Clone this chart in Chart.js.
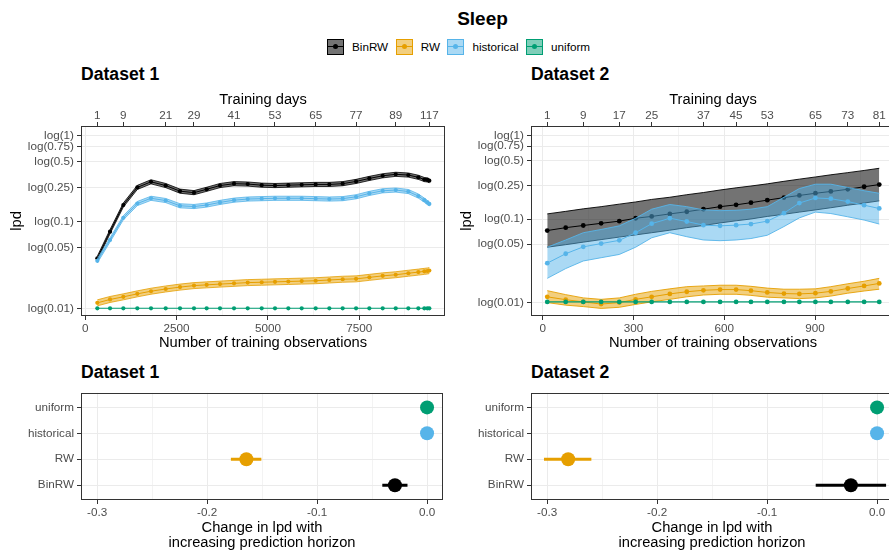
<!DOCTYPE html>
<html>
<head>
<meta charset="utf-8">
<title>Sleep</title>
<script src="https://cdn.jsdelivr.net/npm/chart.js@4.4.1/dist/chart.umd.min.js"></script>
<style>
  html, body { margin: 0; padding: 0; background: #fff; overflow: hidden; }
  #figure { position: relative; width: 889px; height: 553px; overflow: hidden;
            font-family: "Liberation Sans", Arial, Helvetica, sans-serif; color: #000; }
  #figure canvas { position: absolute; }
  .title { position: absolute; white-space: nowrap; font-weight: bold; line-height: 1; }
  #mainTitle { font-size: 19px; left: 482.5px; top: 8.9px; transform: translateX(-50%); }
  .panelTitle { font-size: 17.6px; }
  #legend { position: absolute; left: 327px; top: 38.5px; display: flex; align-items: center;
            font-size: 11.7px; line-height: 16px; white-space: nowrap; }
  .item { display: flex; align-items: center; margin-right: 7.5px; }
  .key { position: relative; width: 17px; height: 16px; box-sizing: border-box; margin-right: 8px; border: 1px solid; }
  .key .ln { position: absolute; left: 0; right: 0; top: 6.5px; height: 1px; }
  .key .pt { position: absolute; left: 5px; top: 4.5px; width: 5px; height: 5px; border-radius: 50%; }
</style>
</head>
<body>
<div id="figure">
  <div id="mainTitle" class="title">Sleep</div>
  <div id="legend"></div>
  <div class="title panelTitle" style="left:81px;top:65.6px">Dataset 1</div>
  <div class="title panelTitle" style="left:531px;top:65.6px">Dataset 2</div>
  <div class="title panelTitle" style="left:81px;top:364.1px">Dataset 1</div>
  <div class="title panelTitle" style="left:531px;top:364.1px">Dataset 2</div>
  <canvas id="lpd1" width="450" height="265" style="left:0px;top:88px"></canvas>
  <canvas id="lpd2" width="450" height="265" style="left:450px;top:88px"></canvas>
  <canvas id="shift1" width="450" height="169" style="left:0px;top:384px"></canvas>
  <canvas id="shift2" width="450" height="169" style="left:450px;top:384px"></canvas>
</div>
<script>
// ---------------- data ----------------
const seriesNames = ['BinRW', 'RW', 'historical', 'uniform'];

// Dataset 1: number of training observations and lpd (natural log) per model
const obs1 = [329, 677, 1041, 1424, 1799, 2201, 2593, 2976, 3323, 3688, 4072, 4447, 4830, 5194,
              5559, 5925, 6308, 6682, 7047, 7414, 7777, 8143, 8500, 8845, 9119, 9283, 9365, 9420];
const binrw1 = [-3.27, -2.56, -1.85, -1.38, -1.23, -1.33, -1.48, -1.52, -1.43, -1.33, -1.28, -1.29, -1.32, -1.33,
                -1.32, -1.31, -1.30, -1.30, -1.28, -1.22, -1.14, -1.07, -1.03, -1.05, -1.11, -1.17, -1.18, -1.20];
const rw1 = [-4.46, -4.37, -4.30, -4.22, -4.15, -4.09, -4.04, -4.00, -3.98, -3.96, -3.94, -3.92, -3.91, -3.90,
             -3.89, -3.88, -3.87, -3.85, -3.83, -3.82, -3.78, -3.74, -3.71, -3.67, -3.64, -3.62, -3.61, -3.60];
const hist1 = [-3.34, -2.78, -2.19, -1.81, -1.67, -1.73, -1.87, -1.89, -1.85, -1.78, -1.72, -1.69, -1.68, -1.67,
               -1.67, -1.67, -1.68, -1.69, -1.68, -1.63, -1.54, -1.47, -1.45, -1.49, -1.61, -1.72, -1.78, -1.82];
const unif1 = [-4.605, -4.605, -4.605, -4.605, -4.605, -4.605, -4.605, -4.605, -4.605, -4.605, -4.605, -4.605, -4.605, -4.605,
               -4.605, -4.605, -4.605, -4.605, -4.605, -4.605, -4.605, -4.605, -4.605, -4.605, -4.605, -4.605, -4.605, -4.605];
// half-width of the interval band for each model in Dataset 1
const binrwHalf1 = 0.055;
const rwHalf1 = 0.08;
const histHalf1 = 0.055;
// training days shown on the secondary axis, and the observation count they fall on
const days1 = [1, 9, 21, 29, 41, 53, 65, 77, 89, 117];
const dayObs1 = [329, 1041, 2201, 2976, 4072, 5194, 6308, 7414, 8500, 9420];

// Dataset 2
const obs2 = [15, 76, 134, 193, 253, 307, 360, 420, 476, 531, 586, 639, 688, 742, 797, 848, 901, 952, 1008, 1062, 1112];
const binrw2 = [-2.62, -2.54, -2.48, -2.42, -2.36, -2.28, -2.23, -2.16, -2.10, -2.03, -1.96,
                -1.91, -1.85, -1.78, -1.71, -1.65, -1.59, -1.54, -1.48, -1.41, -1.35];
const binrw2Lo = [-3.08, -3.01, -2.94, -2.87, -2.80, -2.74, -2.68, -2.61, -2.54, -2.48, -2.41,
                  -2.35, -2.30, -2.23, -2.17, -2.11, -2.05, -1.99, -1.92, -1.86, -1.80];
const binrw2Hi = [-2.16, -2.09, -2.02, -1.96, -1.89, -1.83, -1.76, -1.70, -1.63, -1.57, -1.50,
                  -1.44, -1.39, -1.33, -1.26, -1.20, -1.14, -1.08, -1.02, -0.96, -0.90];
const rw2 = [-4.45, -4.53, -4.59, -4.65, -4.61, -4.52, -4.45, -4.37, -4.31, -4.27, -4.25,
             -4.25, -4.28, -4.33, -4.36, -4.37, -4.35, -4.30, -4.22, -4.15, -4.08];
const rw2Lo = [-4.61, -4.68, -4.72, -4.77, -4.74, -4.66, -4.59, -4.52, -4.45, -4.40, -4.38,
               -4.38, -4.41, -4.46, -4.48, -4.50, -4.48, -4.43, -4.35, -4.29, -4.24];
const rw2Hi = [-4.28, -4.39, -4.48, -4.52, -4.48, -4.38, -4.30, -4.23, -4.17, -4.15, -4.13,
               -4.13, -4.16, -4.21, -4.24, -4.24, -4.23, -4.17, -4.09, -4.02, -3.94];
const hist2 = [-3.52, -3.26, -3.07, -2.98, -2.89, -2.68, -2.43, -2.28, -2.37, -2.47, -2.49,
               -2.47, -2.44, -2.36, -2.14, -1.86, -1.72, -1.74, -1.82, -1.92, -2.01];
const hist2Lo = [-3.94, -3.67, -3.46, -3.37, -3.28, -3.08, -2.82, -2.68, -2.79, -2.88, -2.90,
                 -2.88, -2.84, -2.75, -2.51, -2.27, -2.11, -2.15, -2.24, -2.33, -2.44];
const hist2Hi = [-3.08, -2.88, -2.68, -2.59, -2.49, -2.28, -2.03, -1.90, -1.96, -2.05, -2.07,
                 -2.06, -2.03, -1.96, -1.70, -1.46, -1.34, -1.34, -1.43, -1.52, -1.59];
const unif2 = [-4.59, -4.59, -4.59, -4.59, -4.59, -4.59, -4.59, -4.59, -4.59, -4.59, -4.59,
               -4.59, -4.59, -4.59, -4.59, -4.59, -4.59, -4.59, -4.59, -4.59, -4.59];
const days2 = [1, 9, 17, 25, 37, 45, 53, 65, 73, 81];
const dayObs2 = [15, 134, 253, 360, 531, 639, 742, 901, 1008, 1112];

// tick labels
const lpdTickLabels = ['0.01', '0.05', '0.1', '0.25', '0.5', '0.75', '1'];
const obsTicks1 = [0, 2500, 5000, 7500];
const obsTicks2 = [0, 300, 600, 900];
const shiftTickLabels = ['-0.3', '-0.2', '-0.1', '0.0'];

// change in lpd with increasing prediction horizon (order: BinRW, RW, historical, uniform)
const shift1 = [-0.0292, -0.1643, 0.0, 0.0];
const shift1Lo = [-0.0407, -0.1784, 0.0, 0.0];
const shift1Hi = [-0.0178, -0.1507, 0.0, 0.0];
const shift2 = [-0.0238, -0.2809, 0.0, 0.0];
const shift2Lo = [-0.0558, -0.3029, 0.0, 0.0];
const shift2Hi = [0.0082, -0.2598, 0.0, 0.0];

// ---------------- styling ----------------
const FONT = '"Liberation Sans", Arial, Helvetica, sans-serif';
const COLORS = { BinRW: '#000000', RW: '#E69F00', historical: '#56B4E9', uniform: '#009E73' };
const FILL_ALPHA = { BinRW: 0.55, RW: 0.5, historical: 0.5, uniform: 0.5 };
const GRID_MAJOR = '#ebebeb';
const GRID_MINOR = '#f3f3f3';
const INK = '#333333';
const TICK_TEXT = '#4d4d4d';
const TICK_FONT = { family: FONT, size: 11.7, lineHeight: 1 };
const AXIS_FONT = { family: FONT, size: 14.7, lineHeight: 1.2 };

Chart.defaults.font.family = FONT;

function rgba(hex, a) {
  const n = parseInt(hex.slice(1), 16);
  return `rgba(${(n >> 16) & 255},${(n >> 8) & 255},${n & 255},${a})`;
}

// legend
(function buildLegend() {
  const box = document.getElementById('legend');
  seriesNames.forEach(name => {
    const c = COLORS[name];
    const item = document.createElement('div');
    item.className = 'item';
    item.innerHTML = `<div class="key" style="border-color:${c};background:${rgba(c, FILL_ALPHA[name])}">` +
      `<div class="ln" style="background:${c}"></div><div class="pt" style="background:${c}"></div></div>` +
      `<span>${name}</span>`;
    box.appendChild(item);
  });
})();

// panel border drawn above the data
const panelBorder = {
  id: 'panelBorder',
  afterDatasetsDraw(chart) {
    const { ctx, chartArea: a } = chart;
    ctx.save();
    ctx.strokeStyle = INK;
    ctx.lineWidth = 1;
    ctx.strokeRect(Math.round(a.left) + 0.5, Math.round(a.top) + 0.5,
                   Math.round(a.right - a.left) - 1, Math.round(a.bottom - a.top) - 1);
    ctx.restore();
  }
};

// major ticks with labels, plus unlabeled minor grid positions halfway between them
function gridTicks(majors, labels, min, max) {
  const step = majors[1] - majors[0];
  const list = majors.map((v, i) => ({ value: v, label: labels[i], major: true }));
  [majors[0] - step / 2, ...majors.map(v => v + step / 2)].forEach(v => {
    if (v > min && v < max) list.push({ value: v, label: '', major: false });
  });
  list.sort((a, b) => a.value - b.value);
  return list;
}

function xBottomScale(defs, min, max, title, height, titlePadBottom, titleLineHeight) {
  return {
    type: 'linear', position: 'bottom', min, max,
    afterBuildTicks: s => { s.ticks = defs.map(d => ({ value: d.value })); },
    afterFit: s => { s.height = height; },
    ticks: { autoSkip: false, maxRotation: 0, minRotation: 0, padding: 2.5, color: TICK_TEXT, font: TICK_FONT,
             callback: (v, i) => (defs[i] ? defs[i].label : '') },
    grid: {
      color: c => (defs[c.index] && defs[c.index].major ? GRID_MAJOR : GRID_MINOR),
      lineWidth: 1,
      tickColor: c => (defs[c.index] && defs[c.index].major ? INK : 'rgba(0,0,0,0)'),
      tickLength: 4, tickWidth: 1
    },
    border: { display: false },
    title: { display: true, text: title, color: '#000',
             font: { family: FONT, size: 14.7, lineHeight: titleLineHeight },
             padding: { top: 0, bottom: titlePadBottom } }
  };
}

function lpdPanel(canvasId, o) {
  const yTicks = lpdTickLabels.map(l => Math.log(Number(l)));
  const xDefs = gridTicks(o.obsTicks, o.obsTicks.map(String), o.xMin, o.xMax);
  o.datasets.forEach((d, i) => { d.order = -i; });
  return new Chart(document.getElementById(canvasId), {
    type: 'line',
    data: { datasets: o.datasets },
    options: {
      responsive: false, animation: false, events: [], devicePixelRatio: 1,
      layout: { padding: { left: 0, right: 5, top: 0, bottom: 0 } },
      plugins: { legend: { display: false }, tooltip: { enabled: false } },
      scales: {
        x: xBottomScale(xDefs, o.xMin, o.xMax, 'Number of training observations', 37, 1.3, 1.2),
        xTop: {
          type: 'linear', position: 'top', min: o.xMin, max: o.xMax,
          afterBuildTicks: s => { s.ticks = o.dayObs.map(v => ({ value: v })); },
          afterFit: s => { s.height = 38; },
          ticks: { autoSkip: false, maxRotation: 0, minRotation: 0, padding: 0, color: TICK_TEXT, font: TICK_FONT,
                   callback: (v, i) => String(o.days[i]) },
          grid: { drawOnChartArea: false, tickColor: INK, tickLength: 4, tickWidth: 1 },
          border: { display: false },
          title: { display: true, text: 'Training days', color: '#000', font: AXIS_FONT,
                   padding: { top: 2.8, bottom: 0 } }
        },
        y: {
          type: 'linear', position: 'left', min: o.yMin, max: o.yMax,
          afterBuildTicks: s => { s.ticks = yTicks.map(v => ({ value: v })); },
          afterFit: s => { s.width = 81; },
          ticks: { autoSkip: false, padding: 3, color: TICK_TEXT, font: TICK_FONT,
                   callback: (v, i) => `log(${lpdTickLabels[i]})` },
          grid: { color: GRID_MAJOR, lineWidth: 1, tickColor: INK, tickLength: 4, tickWidth: 1 },
          border: { display: false },
          title: { display: true, text: 'lpd', color: '#000', font: AXIS_FONT, padding: { top: 8.2, bottom: 0 } }
        }
      }
    },
    plugins: [panelBorder]
  });
}

function ribbon(x, lo, hi, name, edge) {
  const c = COLORS[name];
  return [
    { data: x.map((v, i) => ({ x: v, y: lo[i] })), borderColor: c, borderWidth: edge,
      pointRadius: 0, fill: false },
    { data: x.map((v, i) => ({ x: v, y: hi[i] })), borderColor: c, borderWidth: edge,
      pointRadius: 0, fill: '-1', backgroundColor: rgba(c, FILL_ALPHA[name]) }
  ];
}

function trace(x, y, name, lw, r) {
  const c = COLORS[name];
  return { data: x.map((v, i) => ({ x: v, y: y[i] })), borderColor: c, borderWidth: lw,
           pointRadius: r, pointBackgroundColor: c, pointBorderWidth: 0, fill: false };
}

// Dataset 1: lpd against training size
lpdPanel('lpd1', {
  xMin: -118, xMax: 9849, yMin: -4.811, yMax: 0.259,
  obsTicks: obsTicks1, days: days1, dayObs: dayObs1,
  datasets: [
    ...ribbon(obs1, binrw1.map(v => v - binrwHalf1), binrw1.map(v => v + binrwHalf1), 'BinRW', 0.8),
    trace(obs1, binrw1, 'BinRW', 1, 2.1),
    ...ribbon(obs1, rw1.map(v => v - rwHalf1), rw1.map(v => v + rwHalf1), 'RW', 0.8),
    trace(obs1, rw1, 'RW', 1, 2.1),
    ...ribbon(obs1, hist1.map(v => v - histHalf1), hist1.map(v => v + histHalf1), 'historical', 0.8),
    trace(obs1, hist1, 'historical', 1, 2.1),
    trace(obs1, unif1, 'uniform', 1.1, 2.1)
  ]
});

// Dataset 2: lpd against training size
lpdPanel('lpd2', {
  xMin: -38.7, xMax: 1164, yMin: -4.98, yMax: 0.268,
  obsTicks: obsTicks2, days: days2, dayObs: dayObs2,
  datasets: [
    ...ribbon(obs2, binrw2Lo, binrw2Hi, 'BinRW', 0.9),
    trace(obs2, binrw2, 'BinRW', 1, 2.4),
    ...ribbon(obs2, rw2Lo, rw2Hi, 'RW', 0.9),
    trace(obs2, rw2, 'RW', 1, 2.4),
    ...ribbon(obs2, hist2Lo, hist2Hi, 'historical', 0.9),
    trace(obs2, hist2, 'historical', 1, 2.4),
    trace(obs2, unif2, 'uniform', 1.1, 2.4)
  ]
});

// change in lpd with horizon: point + interval per model
function shiftPanel(canvasId, est, lo, hi) {
  const xVals = shiftTickLabels.map(Number);
  const xMin = -0.3147, xMax = 0.0145;
  const xDefs = gridTicks(xVals, shiftTickLabels, xMin, xMax);
  const bars = seriesNames.map((name, i) => ({
    type: 'scatter', showLine: true,
    data: [{ x: lo[i], y: i + 1 }, { x: hi[i], y: i + 1 }],
    borderColor: COLORS[name], borderWidth: 3, pointRadius: 0
  }));
  const points = {
    type: 'scatter',
    data: seriesNames.map((name, i) => ({ x: est[i], y: i + 1 })),
    pointRadius: 7, pointBackgroundColor: seriesNames.map(n => COLORS[n]), pointBorderWidth: 0,
    borderWidth: 0, showLine: false
  };
  const datasets = [...bars, points];
  datasets.forEach((d, i) => { d.order = -i; });
  return new Chart(document.getElementById(canvasId), {
    type: 'scatter',
    data: { datasets },
    options: {
      responsive: false, animation: false, events: [], devicePixelRatio: 1,
      layout: { padding: { left: 0, right: 5, top: 7.7, bottom: 0 } },
      plugins: { legend: { display: false }, tooltip: { enabled: false } },
      scales: {
        x: xBottomScale(xDefs, xMin, xMax, ['Change in lpd with', 'increasing prediction horizon'], 53, 2.4, 1.02),
        y: {
          type: 'linear', position: 'left', min: 0.43, max: 4.56,
          afterBuildTicks: s => { s.ticks = seriesNames.map((n, i) => ({ value: i + 1 })); },
          afterFit: s => { s.width = 81; },
          ticks: { autoSkip: false, padding: 3, color: TICK_TEXT, font: TICK_FONT,
                   callback: (v, i) => seriesNames[i] },
          grid: { color: GRID_MAJOR, lineWidth: 1, tickColor: INK, tickLength: 4, tickWidth: 1 },
          border: { display: false }
        }
      }
    },
    plugins: [panelBorder]
  });
}

shiftPanel('shift1', shift1, shift1Lo, shift1Hi);
shiftPanel('shift2', shift2, shift2Lo, shift2Hi);
</script>
</body>
</html>
